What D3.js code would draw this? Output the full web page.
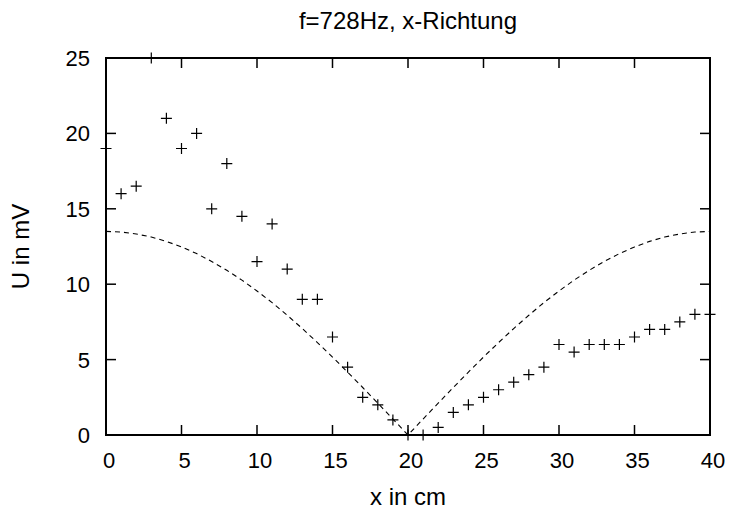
<!DOCTYPE html>
<html>
<head>
<meta charset="utf-8">
<script src="https://cdn.jsdelivr.net/npm/d3@7"></script>
<style>
  body { margin: 0; background: #fff; }
  text { font-family: "Liberation Sans", Arial, sans-serif; fill: #000; }
</style>
</head>
<body>
<div id="chart"></div>
<script>
// measured points, x in cm
const posX = d3.range(0, 41);
const voltage = [19, 16, 16.5, 25, 21, 19, 20, 15, 18, 14.5,
    11.5, 14, 11, 9, 9, 6.5, 4.5, 2.5, 2, 1,
    0, 0, 0.5, 1.5, 2, 2.5, 3, 3.5, 4, 4.5,
    6, 5.5, 6, 6, 6, 6.5, 7, 7, 7.5, 8, 8];

// dashed theory curve, every 1 cm
const curveX = d3.range(0, 41);
const curveU = [13.5, 13.46, 13.33, 13.13, 12.84, 12.47, 12.03, 11.51, 10.92, 10.27,
    9.55, 8.78, 7.94, 7.06, 6.13, 5.17, 4.17, 3.15, 2.11, 1.06,
    0, 1.06, 2.11, 3.15, 4.17, 5.17, 6.13, 7.06, 7.94, 8.78,
    9.55, 10.27, 10.92, 11.51, 12.03, 12.47, 12.84, 13.13, 13.33, 13.46, 13.5];

const xTicks = [0, 5, 10, 15, 20, 25, 30, 35, 40];
const yTicks = [0, 5, 10, 15, 20, 25];

const W = 729, H = 512;
const margin = {top: 58, right: 19, bottom: 77, left: 106};
const width = W - margin.left - margin.right;
const height = H - margin.top - margin.bottom;

const svg = d3.select("#chart").append("svg")
    .attr("width", W)
    .attr("height", H);

const g = svg.append("g")
    .attr("transform", "translate(" + margin.left + "," + margin.top + ")");

const x = d3.scaleLinear().domain([0, 40]).range([0, width]);
const y = d3.scaleLinear().domain([0, 25]).range([height, 0]);

const tickLen = 10;
const fs = 22;      // tick labels
const fsLab = 24;   // title and axis names

// ticks, mirrored on all four sides (gnuplot style)
xTicks.forEach(t => {
    g.append("line").attr("x1", x(t)).attr("x2", x(t))
        .attr("y1", height).attr("y2", height - tickLen)
        .attr("stroke", "#000").attr("stroke-width", 1.5);
    g.append("line").attr("x1", x(t)).attr("x2", x(t))
        .attr("y1", 0).attr("y2", tickLen)
        .attr("stroke", "#000").attr("stroke-width", 1.5);
    g.append("text").text(t)
        .attr("x", x(t) + 3).attr("y", height + 33)
        .attr("text-anchor", "middle")
        .attr("font-size", fs);
});

yTicks.forEach(t => {
    g.append("line").attr("x1", 0).attr("x2", tickLen)
        .attr("y1", y(t)).attr("y2", y(t))
        .attr("stroke", "#000").attr("stroke-width", 1.5);
    g.append("line").attr("x1", width).attr("x2", width - tickLen)
        .attr("y1", y(t)).attr("y2", y(t))
        .attr("stroke", "#000").attr("stroke-width", 1.5);
    g.append("text").text(t)
        .attr("x", -16).attr("y", y(t))
        .attr("dy", "0.36em")
        .attr("text-anchor", "end")
        .attr("font-size", fs);
});

// frame
g.append("rect")
    .attr("x", 0).attr("y", 0)
    .attr("width", width).attr("height", height)
    .attr("fill", "none")
    .attr("stroke", "#000")
    .attr("stroke-width", 2);

// theory curve
const line = d3.line()
    .x((d, i) => x(curveX[i]))
    .y(d => y(d));

g.append("path")
    .datum(curveU)
    .attr("d", line)
    .attr("fill", "none")
    .attr("stroke", "#000")
    .attr("stroke-width", 1.1)
    .attr("stroke-dasharray", "5,4");

// measurement crosses
const cs = 5.5;
g.append("g").selectAll(".pt")
    .data(voltage)
    .enter()
    .append("path")
    .attr("class", "pt")
    .attr("d", (d, i) => {
        const px = x(posX[i]), py = y(d);
        return "M" + (px - cs) + "," + py + "H" + (px + cs) +
            "M" + px + "," + (py - cs) + "V" + (py + cs);
    })
    .attr("stroke", "#000")
    .attr("stroke-width", 1.2)
    .attr("fill", "none");

// labels
svg.append("text").text("f=728Hz, x-Richtung")
    .attr("x", margin.left + width / 2).attr("y", 29)
    .attr("text-anchor", "middle")
    .attr("font-size", fsLab);

svg.append("text").text("x in cm")
    .attr("x", margin.left + width / 2).attr("y", 505)
    .attr("text-anchor", "middle")
    .attr("font-size", fsLab);

svg.append("text").text("U in mV")
    .attr("transform", "translate(29," + (margin.top + height / 2) + ") rotate(-90)")
    .attr("text-anchor", "middle")
    .attr("font-size", fsLab);
</script>
</body>
</html>
